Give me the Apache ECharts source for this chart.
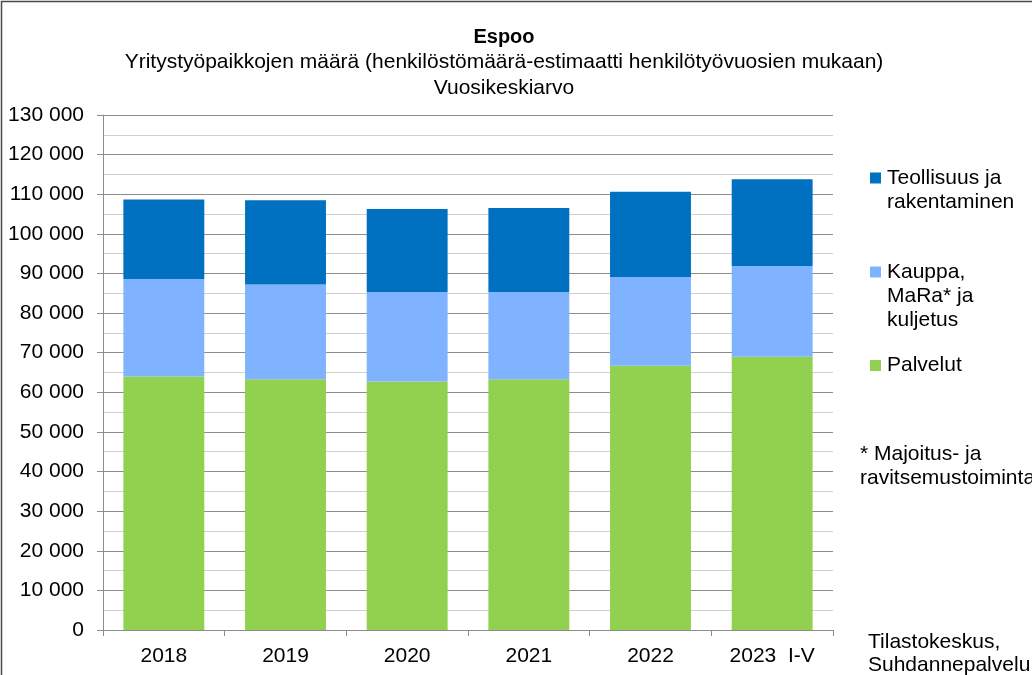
<!DOCTYPE html>
<html>
<head>
<meta charset="utf-8">
<script src="https://cdn.jsdelivr.net/npm/echarts@6/dist/echarts.min.js"></script>
<style>
html,body{margin:0;padding:0;background:#fff;}
#c{width:1032px;height:675px;}
</style>
</head>
<body>
<div id="c"></div>
<script>
const categories = ['2018', '2019', '2020', '2021', '2022', '2023  I-V'];
const palvelut = [64000, 63300, 62700, 63300, 66700, 69000];
const kauppa = [24600, 23900, 22600, 22000, 22400, 22900];
const teollisuus = [20100, 21300, 21000, 21200, 21500, 21900];
const seriesNames = ['Teollisuus ja\nrakentaminen', 'Kauppa,\nMaRa* ja\nkuljetus', 'Palvelut'];
const yTicks = { min: 0, max: 130000, interval: 10000 };

const FONT = '"Liberation Sans", Arial, sans-serif';
const FS = 21;
const LH = 24;

function fmt(v) {
  return String(v).replace(/\B(?=(\d{3})+(?!\d))/g, ' ');
}

// legend helper: pad empty lines above so the icon aligns with the first text line
function legendFor(name, iconCenterY) {
  const n = name.split('\n').length;
  const padded = '\n'.repeat(n - 1) + name;
  const total = (2 * n - 1) * LH;
  return {
    data: [name],
    left: 870,
    top: iconCenterY - total / 2,
    padding: 0,
    itemWidth: 11,
    itemHeight: 11,
    itemGap: 0,
    icon: 'rect',
    selectedMode: false,
    formatter: function () { return padded; },
    textStyle: { fontFamily: FONT, fontSize: FS, color: '#000', lineHeight: LH, padding: [0, 0, 0, 1] }
  };
}

const chart = echarts.init(document.getElementById('c'), null, { renderer: 'canvas' });
chart.setOption({
  backgroundColor: '#fff',
  animation: false,
  title: {
    text: 'Espoo',
    subtext: 'Yritystyöpaikkojen määrä (henkilöstömäärä-estimaatti henkilötyövuosien mukaan)\nVuosikeskiarvo',
    left: 504,
    textAlign: 'center',
    top: 26,
    padding: 0,
    itemGap: 1,
    textStyle: { fontFamily: FONT, fontSize: 20, fontWeight: 'bold', color: '#000', lineHeight: 22 },
    subtextStyle: { fontFamily: FONT, fontSize: FS, color: '#000', lineHeight: 26 }
  },
  legend: [
    legendFor(seriesNames[0], 178),
    legendFor(seriesNames[1], 272),
    legendFor(seriesNames[2], 365.5)
  ],
  grid: { left: 103, right: 199, top: 115, bottom: 45, containLabel: false },
  xAxis: {
    type: 'category',
    data: categories,
    axisLine: { show: true, lineStyle: { color: '#8c8c8c', width: 1 } },
    axisTick: { show: true, length: 6, lineStyle: { color: '#8c8c8c' } },
    axisLabel: { fontFamily: FONT, fontSize: FS, color: '#000', margin: 16 }
  },
  yAxis: {
    type: 'value',
    min: yTicks.min,
    max: yTicks.max,
    interval: yTicks.interval,
    axisLine: { show: true, lineStyle: { color: '#8c8c8c', width: 1 } },
    axisTick: { show: true, length: 6, lineStyle: { color: '#8c8c8c' } },
    axisLabel: { fontFamily: FONT, fontSize: FS, color: '#000', margin: 19, formatter: fmt },
    splitLine: { show: true, lineStyle: { color: '#8c8c8c', width: 1 } },
    minorTick: { show: false, splitNumber: 2 },
    minorSplitLine: { show: true, lineStyle: { color: '#d0d0d0', width: 1 } }
  },
  series: [
    { name: seriesNames[2], type: 'bar', stack: 'a', data: palvelut, barCategoryGap: '33.5%', itemStyle: { color: '#92D050' } },
    { name: seriesNames[1], type: 'bar', stack: 'a', data: kauppa, itemStyle: { color: '#7FB3FF' } },
    { name: seriesNames[0], type: 'bar', stack: 'a', data: teollisuus, itemStyle: { color: '#0070C0' } }
  ],
  graphic: [
    { type: 'rect', shape: { x: 1.5, y: 1.5, width: 1200, height: 800 }, style: { fill: null, stroke: '#4a4a4a', lineWidth: 1.5 }, silent: true, z: 100 },
    { type: 'text', left: 860, top: 442, style: { text: '* Majoitus- ja\nravitsemustoiminta', fontFamily: FONT, fontSize: FS, fill: '#000', lineHeight: LH } },
    { type: 'text', left: 868, top: 631, style: { text: 'Tilastokeskus,\nSuhdannepalvelu', fontFamily: FONT, fontSize: FS, fill: '#000', lineHeight: 23 } }
  ]
});
</script>
</body>
</html>
